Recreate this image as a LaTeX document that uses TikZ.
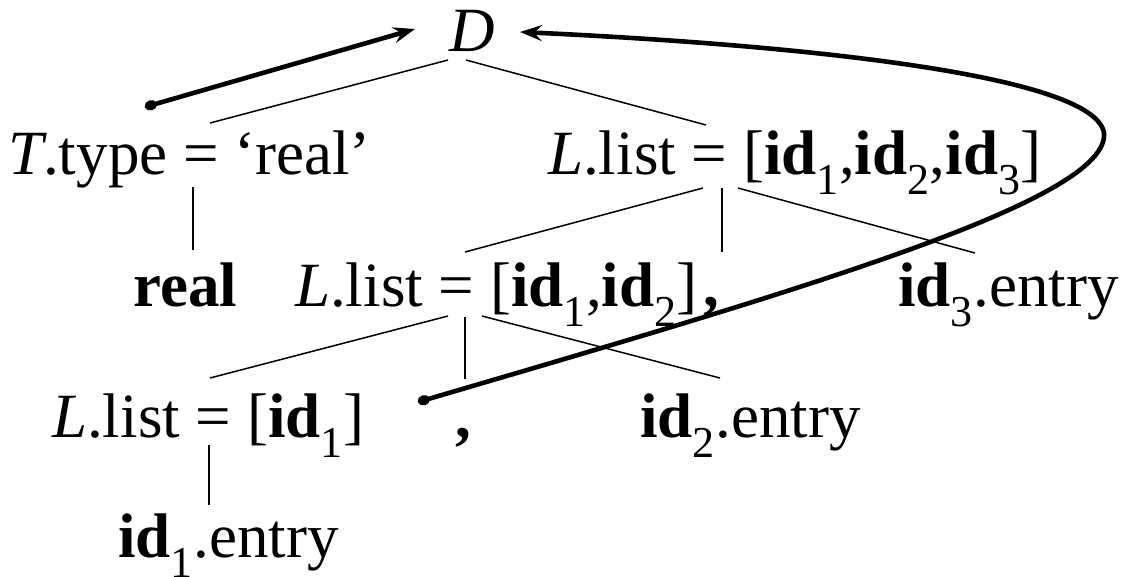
\documentclass[tikz,border=0pt]{standalone}
\usepackage{fontspec}
\setmainfont{Liberation Serif}
\usetikzlibrary{arrows.meta}
\newcommand\ssub[1]{\textsubscript{#1}}
\begin{document}
\begin{tikzpicture}[x=1pt,y=-1pt,
  lbl/.style={anchor=base west,inner sep=0pt,font=\fontsize{63}{70}\selectfont},
  tree/.style={line width=1.5pt},
  link/.style={line width=4.6pt,line cap=round,{Circle[length=12pt,width=10pt]}-{Stealth[length=22pt,width=16pt,inset=8pt]}}]
\useasboundingbox (0,0) rectangle (1122,576);
% labels
\node[lbl] (D) at (449,51) {\textit{D}};
\node[lbl] (T2) at (8,174) {\textit{T}.type = ‘real’};
\node[lbl] (L2) at (548,174) {\textit{L}.list = [\textbf{id}\ssub{1},\textbf{id}\ssub{2},\textbf{id}\ssub{3}]};
\node[lbl] (real) at (133,306) {\textbf{real}};
\node[lbl] (L3) at (295,306) {\textit{L}.list = [\textbf{id}\ssub{1},\textbf{id}\ssub{2}]};
\node[lbl] (c3) at (703,306) {\textbf{,}};
\node[lbl] (id3) at (898,306) {\textbf{id}\ssub{3}.entry};
\node[lbl] (L4) at (52,437) {\textit{L}.list = [\textbf{id}\ssub{1}]};
\node[lbl] (c4) at (455,437) {\textbf{,}};
\node[lbl] (id2) at (640,437) {\textbf{id}\ssub{2}.entry};
\node[lbl] (id1) at (118,557) {\textbf{id}\ssub{1}.entry};
% attachment points
\coordinate (Dl) at (448,60);
\coordinate (Dr) at (466,60);
\coordinate (T2t) at (210,123);
\coordinate (L2t) at (706,125);
\coordinate (T2b) at (193,187);
\coordinate (realt) at (193,250);
\coordinate (L2bl) at (703,188);
\coordinate (L2bm) at (722,188);
\coordinate (L2br) at (738,188);
\coordinate (L3t) at (465,252);
\coordinate (c3t) at (722,252);
\coordinate (id3t) at (975,253);
\coordinate (L3bl) at (448,316);
\coordinate (L3bm) at (465,317);
\coordinate (L3br) at (482,316);
\coordinate (L4t) at (210,378);
\coordinate (c4t) at (465,379);
\coordinate (id2t) at (720,378);
\coordinate (L4b) at (209,445);
\coordinate (id1t) at (209,505);
% tree lines
\draw[tree] (Dl) -- (T2t);
\draw[tree] (Dr) -- (L2t);
\draw[tree] (T2b) -- (realt);
\draw[tree] (L2bl) -- (L3t);
\draw[tree] (L2bm) -- (c3t);
\draw[tree] (L2br) -- (id3t);
\draw[tree] (L3bl) -- (L4t);
\draw[tree] (L3bm) -- (c4t);
\draw[tree] (L3br) -- (id2t);
\draw[tree] (L4b) -- (id1t);
% dependency arrows
\coordinate (s1) at (145,107);
\coordinate (e1) at (415,29);
\coordinate (s2) at (418,402);
\coordinate (e2) at (520,32);
\draw[link] (s1) -- (e1);
\draw[link] (s2) .. controls (800,290) and (1110,200) .. (1104,133)
  .. controls (1095,75) and (800,45) .. (e2);
\end{tikzpicture}
\end{document}
